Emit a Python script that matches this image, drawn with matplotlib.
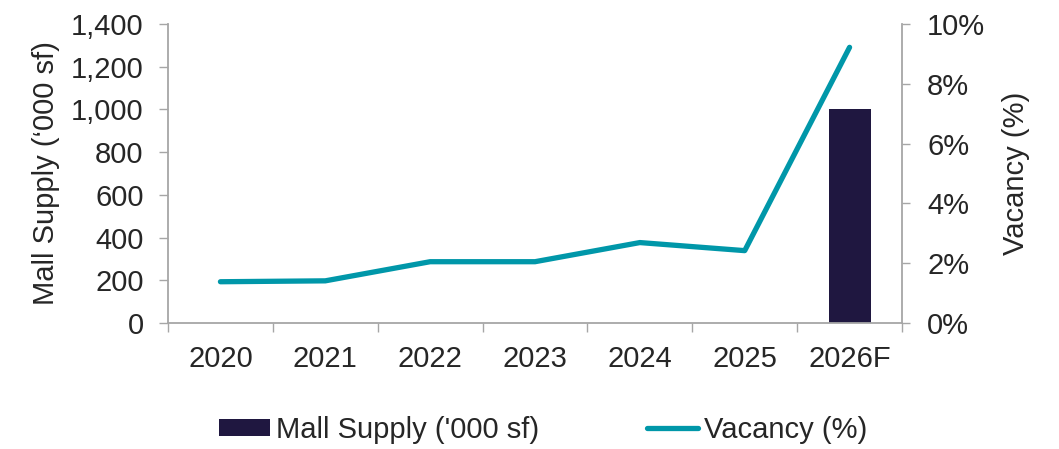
import matplotlib
matplotlib.use("Agg")
import matplotlib.pyplot as plt
import numpy as np
from matplotlib.ticker import FuncFormatter, FixedLocator

plt.rcParams['font.family'] = ['Liberation Sans', 'DejaVu Sans']

categories = ["2020", "2021", "2022", "2023", "2024", "2025", "2026F"]
mall_supply = [0, 0, 0, 0, 0, 0, 1000]
vacancy = [1.38, 1.41, 2.05, 2.05, 2.69, 2.42, 9.22]

bar_color = "#1f1740"
line_color = "#0097a9"
text_color = "#262626"
spine_color = "#a6a6a6"
fs = 21

fig = plt.figure(figsize=(10.59, 4.49), dpi=100)
ax = fig.add_axes([168/1059, 1-323/449, (902-168)/1059, (323-24)/449])
ax2 = ax.twinx()

x = np.arange(len(categories))
ax.bar(x, mall_supply, width=0.4, color=bar_color, label="Mall Supply ('000 sf)", zorder=2)
ax2.plot(x, vacancy, color=line_color, lw=3.8, solid_capstyle='round',
         solid_joinstyle='round', label="Vacancy (%)")

ax.set_xlim(-0.5, len(categories) - 0.5)
ax.set_ylim(0, 1400)
ax2.set_ylim(0, 10)

ax.set_yticks(np.arange(0, 1401, 200))
ax.yaxis.set_major_formatter(FuncFormatter(lambda v, p: f"{int(v):,}"))
ax2.set_yticks(np.arange(0, 11, 2))
ax2.yaxis.set_major_formatter(FuncFormatter(lambda v, p: f"{int(v)}%"))

# x ticks: boundaries as major ticks (no labels), centers as minor with labels
ax.xaxis.set_major_locator(FixedLocator(np.arange(-0.5, len(categories), 1.0)))
ax.xaxis.set_major_formatter(FuncFormatter(lambda v, p: ""))
ax.xaxis.set_minor_locator(FixedLocator(x))
ax.set_xticklabels(categories, minor=True)
ax.tick_params(axis='x', which='major', length=6.5, width=1, color=spine_color, direction='out')
ax.tick_params(axis='x', which='minor', length=0, pad=16, labelsize=fs, labelcolor=text_color)

ax.tick_params(axis='y', length=6.5, width=1, color=spine_color, pad=11,
               labelsize=fs, labelcolor=text_color)
ax2.tick_params(axis='y', length=6, width=1, color=spine_color, pad=12,
                labelsize=fs, labelcolor=text_color)

for a in (ax, ax2):
    a.spines['top'].set_visible(False)
    for s in ('left', 'right', 'bottom'):
        a.spines[s].set_color(spine_color)
        a.spines[s].set_linewidth(1.3)
ax.spines['right'].set_visible(False)
ax2.spines['left'].set_visible(False)
ax2.spines['bottom'].set_visible(False)

ax.set_ylabel("Mall Supply (\u2018000 sf)", fontsize=fs, color=text_color, labelpad=8)
ax2.set_ylabel("Vacancy (%)", fontsize=fs, color=text_color, labelpad=12)

h1, l1 = ax.get_legend_handles_labels()
h2, l2 = ax2.get_legend_handles_labels()
fig.legend(h1 + h2, l1 + l2, loc='center', bbox_to_anchor=(543/1059, 1-430/449),
           ncol=2, frameon=False, fontsize=fs, labelcolor=text_color,
           handlelength=1.75, handleheight=0.55, handletextpad=0.2, columnspacing=3.7)

fig.savefig("out.png", dpi=100)
